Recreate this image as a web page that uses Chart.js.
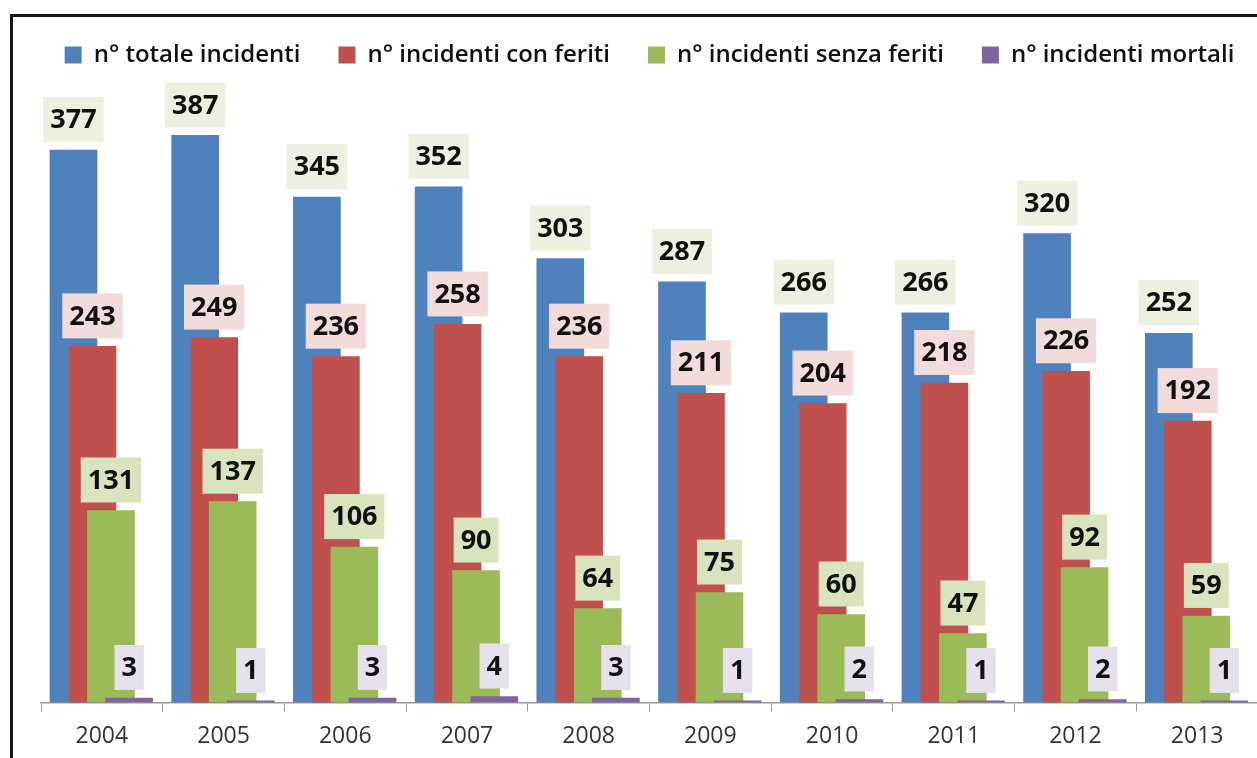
<!DOCTYPE html>
<html>
<head>
<meta charset="utf-8">
<script src="https://cdn.jsdelivr.net/npm/chart.js@4.4.1/dist/chart.umd.min.js"></script>
<style>
  html, body { margin: 0; padding: 0; background: #fff; overflow: hidden; }
  #wrap { position: absolute; left: 0; top: 0; width: 1262px; height: 758px; }
  #frame { position: absolute; left: 10px; top: 14px; width: 1400px; height: 900px;
           border-left: 3px solid #151515; border-top: 3px solid #151515; pointer-events: none; }
</style>
</head>
<body>
<div id="wrap"><canvas id="chart"></canvas></div>
<div id="frame"></div>
<script>
const years = ['2004', '2005', '2006', '2007', '2008', '2009', '2010', '2011', '2012', '2013'];
const seriesNames = ['n° totale incidenti', 'n° incidenti con feriti', 'n° incidenti senza feriti', 'n° incidenti mortali'];
const totale = [377, 387, 345, 352, 303, 287, 266, 266, 320, 252];
const conFeriti = [243, 249, 236, 258, 236, 211, 204, 218, 226, 192];
const senzaFeriti = [131, 137, 106, 90, 64, 75, 60, 47, 92, 59];
const mortali = [3, 1, 3, 4, 3, 1, 2, 1, 2, 1];

const barColors = ['#4f81bd', '#c0504d', '#9bbb59', '#8064a2'];
const labelBg = ['#ebf1de', '#f2dcdb', '#d7e4bd', '#e5e0ec'];
// horizontal shift of each series inside its year (fraction of a category)
const shifts = [-0.233, -0.077, 0.075, 0.224];

const allSeries = [totale, conFeriti, senzaFeriti, mortali];

const datasets = allSeries.map((vals, k) => ({
    label: seriesNames[k],
    data: vals.map((v, i) => ({ x: i + shifts[k], y: v })),
    backgroundColor: barColors[k],
    borderWidth: 0,
    barThickness: 47,
    grouped: false,
    order: 4 - k
}));

// boxed value labels above each bar
const valueBoxes = {
    id: 'valueBoxes',
    afterDatasetsDraw(chart) {
        const ctx = chart.ctx;
        ctx.save();
        ctx.font = 'bold 27px "Open Sans"';
        ctx.textAlign = 'center';
        ctx.textBaseline = 'middle';
        for (let k = 0; k < allSeries.length; k++) {
            const meta = chart.getDatasetMeta(k);
            meta.data.forEach((bar, i) => {
                const txt = String(allSeries[k][i]);
                const w = ctx.measureText(txt).width + 14;
                const h = 45;
                const bottom = bar.y - 8;
                ctx.fillStyle = labelBg[k];
                ctx.fillRect(bar.x - w / 2, bottom - h, w, h);
                ctx.fillStyle = '#111';
                ctx.fillText(txt, bar.x, bottom - h / 2 + 1);
            });
        }
        ctx.restore();
    }
};

// legend kept on one row, with a fixed height so the plot starts where the original does
const legendHeight = {
    id: 'legendHeight',
    beforeInit(chart) {
        const fit = chart.legend.fit;
        chart.legend.fit = function () {
            this.maxWidth = 1400;
            fit.bind(chart.legend)();
            this.height = 111.4;
        };
    },
    afterLayout(chart) {
        // widen the legend box evenly so the last item stays on the same row
        chart.legend.left -= 30;
        chart.legend.right += 30;
        chart.legend.width += 60;
    }
};

new Chart(document.getElementById('chart'), {
    type: 'bar',
    data: { labels: years, datasets },
    options: {
        responsive: true,
        maintainAspectRatio: false,
        animation: false,
        layout: { padding: { left: 41, right: 4, top: 5, bottom: -3 } },
        plugins: {
            legend: {
                position: 'top',
                labels: {
                    boxWidth: 17,
                    boxHeight: 17,
                    padding: 38,
                    color: '#111',
                    font: { family: 'Open Sans', size: 24, weight: '600' },
                    sort: (a, b) => a.datasetIndex - b.datasetIndex
                }
            },
            tooltip: { enabled: false }
        },
        scales: {
            x: {
                type: 'linear',
                min: -0.5,
                max: 9.5,
                offset: false,
                display: false
            },
            xc: {
                type: 'category',
                position: 'bottom',
                offset: true,
                grid: { offset: true, drawOnChartArea: false, drawTicks: true, tickLength: 9, color: '#999' },
                border: { display: true, color: '#999', width: 1.5 },
                ticks: { color: '#333', padding: 11, font: { family: 'Open Sans', size: 23 } }
            },
            y: {
                min: 0,
                max: 400,
                display: false
            }
        }
    },
    plugins: [legendHeight, valueBoxes]
});
</script>
</body>
</html>
